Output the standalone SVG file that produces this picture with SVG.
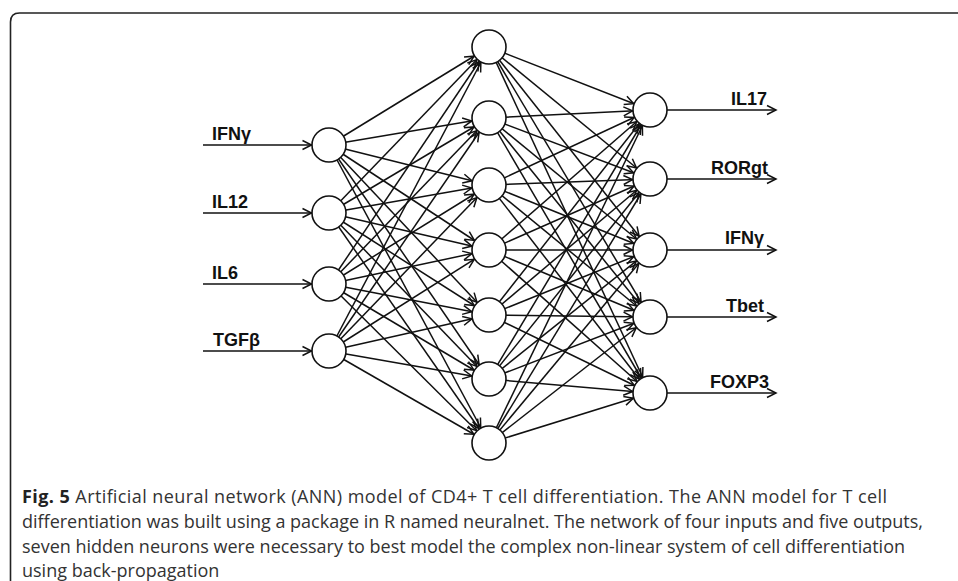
<svg xmlns="http://www.w3.org/2000/svg" width="958" height="581" viewBox="0 0 958 581">
<style>
.conn line{stroke:#111;stroke-width:1.5;fill:none}
.e{marker-end:url(#arrowNode)}
.o{marker-end:url(#arrowTip)}
.node circle{fill:#fff;stroke:#111;stroke-width:1.6}
.lbl{font-family:"Liberation Sans",Arial,sans-serif;font-weight:bold;font-size:18px;fill:#111}
.cap{font-family:"Open Sans","Noto Sans",sans-serif;font-size:18px;fill:#333}
.capb{font-weight:bold;fill:#222}
</style>
<defs>
<marker id="arrowNode" markerUnits="userSpaceOnUse" viewBox="-12 -6 32 12" markerWidth="32" markerHeight="12" refX="17.5" refY="0" orient="auto" overflow="visible">
<path d="M-9,-4.5 L0,0 L-9,4.5" fill="none" stroke="#111" stroke-width="1.5"/>
</marker>
<marker id="arrowTip" markerUnits="userSpaceOnUse" viewBox="-12 -6 14 12" markerWidth="14" markerHeight="12" refX="0" refY="0" orient="auto" overflow="visible">
<path d="M-9,-4.5 L0,0 L-9,4.5" fill="none" stroke="#111" stroke-width="1.5"/>
</marker>
</defs>
<rect width="958" height="581" fill="#fff"/>
<path d="M10.5,581 V22 Q10.5,13 19.5,13 H958" fill="none" stroke="#222" stroke-width="1.6"/>
<g id="connectors" class="conn">
<line class="e" x1="203" y1="145" x2="329" y2="145"/>
<line class="e" x1="203" y1="213" x2="329" y2="213"/>
<line class="e" x1="203" y1="284" x2="329" y2="284"/>
<line class="e" x1="203" y1="351" x2="329" y2="351"/>
<line class="e" x1="329" y1="145" x2="489" y2="47"/>
<line class="e" x1="329" y1="145" x2="489" y2="118"/>
<line class="e" x1="329" y1="145" x2="489" y2="185"/>
<line class="e" x1="329" y1="145" x2="489" y2="250"/>
<line class="e" x1="329" y1="145" x2="489" y2="315"/>
<line class="e" x1="329" y1="145" x2="489" y2="379"/>
<line class="e" x1="329" y1="145" x2="489" y2="443"/>
<line class="e" x1="329" y1="213" x2="489" y2="47"/>
<line class="e" x1="329" y1="213" x2="489" y2="118"/>
<line class="e" x1="329" y1="213" x2="489" y2="185"/>
<line class="e" x1="329" y1="213" x2="489" y2="250"/>
<line class="e" x1="329" y1="213" x2="489" y2="315"/>
<line class="e" x1="329" y1="213" x2="489" y2="379"/>
<line class="e" x1="329" y1="213" x2="489" y2="443"/>
<line class="e" x1="329" y1="284" x2="489" y2="47"/>
<line class="e" x1="329" y1="284" x2="489" y2="118"/>
<line class="e" x1="329" y1="284" x2="489" y2="185"/>
<line class="e" x1="329" y1="284" x2="489" y2="250"/>
<line class="e" x1="329" y1="284" x2="489" y2="315"/>
<line class="e" x1="329" y1="284" x2="489" y2="379"/>
<line class="e" x1="329" y1="284" x2="489" y2="443"/>
<line class="e" x1="329" y1="351" x2="489" y2="47"/>
<line class="e" x1="329" y1="351" x2="489" y2="118"/>
<line class="e" x1="329" y1="351" x2="489" y2="185"/>
<line class="e" x1="329" y1="351" x2="489" y2="250"/>
<line class="e" x1="329" y1="351" x2="489" y2="315"/>
<line class="e" x1="329" y1="351" x2="489" y2="379"/>
<line class="e" x1="329" y1="351" x2="489" y2="443"/>
<line class="e" x1="489" y1="47" x2="650" y2="110"/>
<line class="e" x1="489" y1="47" x2="650" y2="179"/>
<line class="e" x1="489" y1="47" x2="650" y2="250"/>
<line class="e" x1="489" y1="47" x2="650" y2="317"/>
<line class="e" x1="489" y1="47" x2="650" y2="393"/>
<line class="e" x1="489" y1="118" x2="650" y2="110"/>
<line class="e" x1="489" y1="118" x2="650" y2="179"/>
<line class="e" x1="489" y1="118" x2="650" y2="250"/>
<line class="e" x1="489" y1="118" x2="650" y2="317"/>
<line class="e" x1="489" y1="118" x2="650" y2="393"/>
<line class="e" x1="489" y1="185" x2="650" y2="110"/>
<line class="e" x1="489" y1="185" x2="650" y2="179"/>
<line class="e" x1="489" y1="185" x2="650" y2="250"/>
<line class="e" x1="489" y1="185" x2="650" y2="317"/>
<line class="e" x1="489" y1="185" x2="650" y2="393"/>
<line class="e" x1="489" y1="250" x2="650" y2="110"/>
<line class="e" x1="489" y1="250" x2="650" y2="179"/>
<line class="e" x1="489" y1="250" x2="650" y2="250"/>
<line class="e" x1="489" y1="250" x2="650" y2="317"/>
<line class="e" x1="489" y1="250" x2="650" y2="393"/>
<line class="e" x1="489" y1="315" x2="650" y2="110"/>
<line class="e" x1="489" y1="315" x2="650" y2="179"/>
<line class="e" x1="489" y1="315" x2="650" y2="250"/>
<line class="e" x1="489" y1="315" x2="650" y2="317"/>
<line class="e" x1="489" y1="315" x2="650" y2="393"/>
<line class="e" x1="489" y1="379" x2="650" y2="110"/>
<line class="e" x1="489" y1="379" x2="650" y2="179"/>
<line class="e" x1="489" y1="379" x2="650" y2="250"/>
<line class="e" x1="489" y1="379" x2="650" y2="317"/>
<line class="e" x1="489" y1="379" x2="650" y2="393"/>
<line class="e" x1="489" y1="443" x2="650" y2="110"/>
<line class="e" x1="489" y1="443" x2="650" y2="179"/>
<line class="e" x1="489" y1="443" x2="650" y2="250"/>
<line class="e" x1="489" y1="443" x2="650" y2="317"/>
<line class="e" x1="489" y1="443" x2="650" y2="393"/>
<line class="o" x1="650" y1="110" x2="776" y2="110"/>
<line class="o" x1="650" y1="179" x2="776" y2="179"/>
<line class="o" x1="650" y1="250" x2="776" y2="250"/>
<line class="o" x1="650" y1="317" x2="776" y2="317"/>
<line class="o" x1="650" y1="393" x2="776" y2="393"/>
</g>
<g id="in-ifng" class="node"><circle cx="329" cy="145" r="17"/><text class="lbl" x="212" y="140">IFNγ</text></g>
<g id="in-il12" class="node"><circle cx="329" cy="213" r="17"/><text class="lbl" x="212" y="208">IL12</text></g>
<g id="in-il6" class="node"><circle cx="329" cy="284" r="17"/><text class="lbl" x="212" y="279">IL6</text></g>
<g id="in-tgfb" class="node"><circle cx="329" cy="351" r="17"/><text class="lbl" x="213" y="346">TGFβ</text></g>
<g id="h1" class="node"><circle cx="489" cy="47" r="17"/></g>
<g id="h2" class="node"><circle cx="489" cy="118" r="17"/></g>
<g id="h3" class="node"><circle cx="489" cy="185" r="17"/></g>
<g id="h4" class="node"><circle cx="489" cy="250" r="17"/></g>
<g id="h5" class="node"><circle cx="489" cy="315" r="17"/></g>
<g id="h6" class="node"><circle cx="489" cy="379" r="17"/></g>
<g id="h7" class="node"><circle cx="489" cy="443" r="17"/></g>
<g id="out-il17" class="node"><circle cx="650" cy="110" r="17"/><text class="lbl" x="767" y="105" text-anchor="end">IL17</text></g>
<g id="out-rorgt" class="node"><circle cx="650" cy="179" r="17"/><text class="lbl" x="768" y="174" text-anchor="end">RORgt</text></g>
<g id="out-ifng" class="node"><circle cx="650" cy="250" r="17"/><text class="lbl" x="764" y="244" text-anchor="end">IFNγ</text></g>
<g id="out-tbet" class="node"><circle cx="650" cy="317" r="17"/><text class="lbl" x="764" y="312" text-anchor="end">Tbet</text></g>
<g id="out-foxp3" class="node"><circle cx="650" cy="393" r="17"/><text class="lbl" x="769" y="388" text-anchor="end">FOXP3</text></g>
<g id="caption" class="cap">
<text x="22" y="503" textLength="865" lengthAdjust="spacing"><tspan class="capb">Fig. 5</tspan> Artificial neural network (ANN) model of CD4+ T cell differentiation. The ANN model for T cell</text>
<text x="22" y="528" textLength="901" lengthAdjust="spacing">differentiation was built using a package in R named neuralnet. The network of four inputs and five outputs,</text>
<text x="22" y="553" textLength="883" lengthAdjust="spacing">seven hidden neurons were necessary to best model the complex non-linear system of cell differentiation</text>
<text x="22" y="577">using back-propagation</text>
</g>
</svg>
